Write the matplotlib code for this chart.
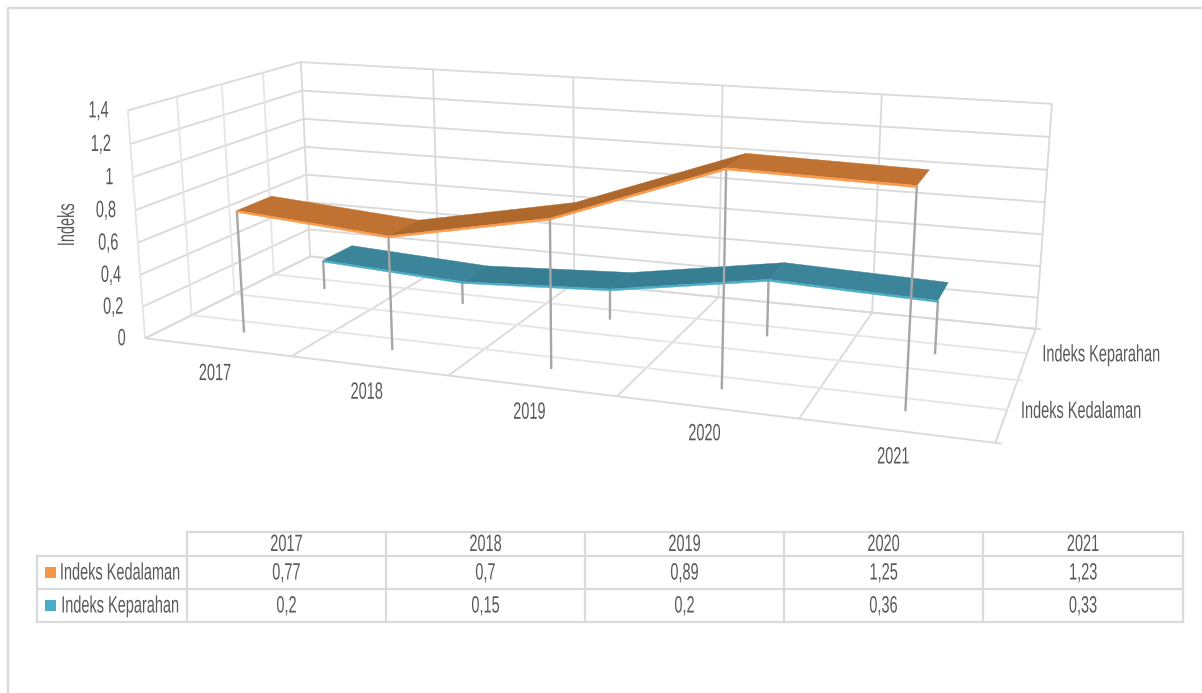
import numpy as np
import matplotlib
matplotlib.use("Agg")
import matplotlib.pyplot as plt
import matplotlib.patheffects as pe
from matplotlib.patches import Polygon, Rectangle
from matplotlib.transforms import Affine2D

# Chart data
years = ["2017", "2018", "2019", "2020", "2021"]
kedalaman = [0.77, 0.70, 0.89, 1.25, 1.23]
keparahan = [0.20, 0.15, 0.20, 0.36, 0.33]
series_names = ["Indeks Kedalaman", "Indeks Keparahan"]
z_ticks = [0, 0.2, 0.4, 0.6, 0.8, 1, 1.2, 1.4]
z_labels = ["0", "0,2", "0,4", "0,6", "0,8", "1", "1,2", "1,4"]
y_title = "Indeks"

W, H = 1202, 693
GRID = "#DADADA"
SOFT = "#E6E6E6"
TEXT = "#595959"
POST = "#A6A6A6"
FAMILY = ["Liberation Sans Narrow", "Liberation Sans", "DejaVu Sans"]
FS = 17
SQUEEZE = 0.615
NAME_HALF = 60  # half the drawn width of a series name, in pixels


class Condensed(pe.AbstractPathEffect):
    """Squeeze glyph outlines along the reading direction, about the anchor."""

    def __init__(self, factor, anchor="center", vertical=False):
        super().__init__()
        self.factor, self.anchor, self.vertical = factor, anchor, vertical

    def draw_path(self, renderer, gc, tpath, affine, rgbFace=None):
        box = tpath.get_extents(affine)
        if self.vertical:
            c = (box.y0 + box.y1) / 2
            squeeze = Affine2D().translate(0, -c).scale(1, self.factor).translate(0, c)
        else:
            c = {"left": box.x0, "center": (box.x0 + box.x1) / 2, "right": box.x1}[self.anchor]
            squeeze = Affine2D().translate(-c, 0).scale(self.factor, 1).translate(c, 0)
        renderer.draw_path(gc, tpath, affine + squeeze, rgbFace)


# Camera of the 3D scene: x spans the 5 categories, y the 2 series (0 = front),
# z the value axis. Fitted to the known box corners and grid crossings.
anchors_3d = np.array([
    (0, 0, 0), (5, 0, 0), (5, 2, 0), (0, 2, 0), (0, 0, 1.4), (0, 2, 1.4), (5, 2, 1.4),
    (1, 0, 0), (2, 0, 0), (3, 0, 0), (4, 0, 0),
    (1, 2, 1.4), (2, 2, 1.4), (3, 2, 1.4), (4, 2, 1.4),
    (3, 2, 0), (4, 2, 0),
    (0, 0.5, 1.4), (0, 1, 1.4), (0, 1.5, 1.4),
    (0, 0.5, 0), (0, 1, 0), (0, 1.5, 0),
    (5, 0.5, 0), (5, 1, 0), (5, 1.5, 0),
], float)
anchors_px = np.array([
    (144, 338), (995, 443), (1036, 328), (310, 257), (128, 109), (300, 62), (1052, 104),
    (292, 356), (449, 376), (618, 397), (797, 420),
    (433, 70), (574, 77), (722, 85), (882, 95),
    (718, 298), (872, 312),
    (177, 97), (222, 84), (263, 73),
    (192, 315), (235, 295), (274, 273),
    (1007, 409), (1019, 380), (1027, 353),
], float)


def fit_camera(pts, px):
    rows, rhs = [], []
    for (X, Y, Z), (u, v) in zip(pts, px):
        rows.append([X, Y, Z, 1, 0, 0, 0, 0, -u * X, -u * Y, -u * Z])
        rhs.append(u)
        rows.append([0, 0, 0, 0, X, Y, Z, 1, -v * X, -v * Y, -v * Z])
        rhs.append(v)
    sol = np.linalg.lstsq(np.array(rows), np.array(rhs), rcond=None)[0]
    return np.append(sol, 1.0).reshape(3, 4)


CAM = fit_camera(anchors_3d, anchors_px)


def project(x, y, z):
    p = CAM @ np.array([x, y, z, 1.0])
    return p[0] / p[2], p[1] / p[2]


fig = plt.figure(figsize=(W / 100, H / 100), dpi=100)
ax = fig.add_axes([0, 0, 1, 1])
ax.set_xlim(0, W)
ax.set_ylim(H, 0)
ax.axis("off")


def line3d(a, b, **kw):
    pa, pb = project(*a), project(*b)
    ax.plot([pa[0], pb[0]], [pa[1], pb[1]], solid_capstyle="butt", **kw)


def label(x, y, s, ha="center", rotation=0):
    t = ax.text(x, y + 1, s, ha=ha, va="center", rotation=rotation, color=TEXT,
                fontsize=FS, family=FAMILY)
    t.set_path_effects([Condensed(SQUEEZE, ha, vertical=rotation == 90)])
    return t


grid_kw = dict(color=GRID, lw=1.35, zorder=1)
soft_kw = dict(color=SOFT, lw=1.35, zorder=1)
n = len(years)
zmax = z_ticks[-1]

# Value gridlines on the left and back walls
for z in z_ticks:
    line3d((0, 0, z), (0, 2, z), **grid_kw)
    line3d((0, 2, z), (n, 2, z), **grid_kw)
# Vertical grid on both walls
for i in range(n + 1):
    line3d((i, 2, 0), (i, 2, zmax), **grid_kw)
for d in (0, 0.5, 1, 1.5):
    line3d((0, d, 0), (0, d, zmax), **soft_kw)
# Floor grid
for i in range(n + 1):
    line3d((i, 0, 0), (i, 2, 0), **grid_kw)
for d, reach, kw in ((0, 0.03, grid_kw), (0.5, 0, soft_kw), (1, 0.03, soft_kw),
                     (1.5, 0, soft_kw), (2, 0.03, grid_kw)):
    line3d((0, d, 0), (n + reach, d, 0), **kw)


def ribbon(values, front, depth, flat, rising, edge, base_z):
    """One series: drop lines, then a shaded band with a bright front lip."""
    xs = [i + 0.5 for i in range(len(values))]
    back = front + depth
    for x, v in zip(xs, values):
        line3d((x, front, 0), (x, front, v), color=POST, lw=1.7, zorder=base_z)
    for i in range(len(values) - 1):
        x0, x1, v0, v1 = xs[i], xs[i + 1], values[i], values[i + 1]
        top = [project(x0, front, v0), project(x1, front, v1),
               project(x1, back, v1), project(x0, back, v0)]
        lip = [project(x0, front, v0), project(x1, front, v1),
               project(x1, front, v1 - 0.012), project(x0, front, v0 - 0.012)]
        shade = rising if v1 > v0 else flat
        ax.add_patch(Polygon(top, closed=True, fc=shade, ec=shade, lw=0.3, zorder=base_z + 1))
        ax.add_patch(Polygon(lip, closed=True, fc=edge, ec=edge, lw=0.3, zorder=base_z + 2))


ribbon(keparahan, 1.3, 0.4, "#3B8499", "#387E93", "#4BACC6", 3)
ribbon(kedalaman, 0.3, 0.4, "#BF7232", "#AE682C", "#FA9A4A", 6)

# Axis labels
for z, s in zip(z_ticks, z_labels):
    px, py = project(0, 0, z)
    label(px - 19, py, s, ha="right")
for i, s in enumerate(years):
    px, py = project(i + 0.5, 0, 0)
    label(px - 2, py + 26, s)
for d, s in zip((0.5, 1.5), series_names):
    px, py = project(n, d, 0)
    label(px + 14 + NAME_HALF, py + 1, s)
label(68, 224, y_title, rotation=90)

# Data table below the plot
col_edges = [187, 386, 585, 784, 983, 1183]
row_edges = [532, 556, 589, 622]
table_kw = dict(color=GRID, lw=1.6, zorder=1, solid_capstyle="projecting")
ax.plot([col_edges[0], col_edges[-1]], [row_edges[0]] * 2, **table_kw)
for yy in row_edges[1:]:
    ax.plot([37, col_edges[-1]], [yy, yy], **table_kw)
for xx in col_edges:
    ax.plot([xx, xx], [row_edges[0], row_edges[-1]], **table_kw)
ax.plot([37, 37], [row_edges[1], row_edges[-1]], **table_kw)

for j, s in enumerate(years):
    label((col_edges[j] + col_edges[j + 1]) / 2, (row_edges[0] + row_edges[1]) / 2, s)

rows = [(series_names[0], kedalaman, "#F79646"), (series_names[1], keparahan, "#4BACC6")]
for r, (name, vals, colour) in enumerate(rows):
    cy = (row_edges[r + 1] + row_edges[r + 2]) / 2
    ax.add_patch(Rectangle((45, cy - 5.5), 11, 11, fc=colour, ec="none", zorder=2))
    label(60 + NAME_HALF, cy, name)
    for j, v in enumerate(vals):
        label((col_edges[j] + col_edges[j + 1]) / 2, cy, f"{v:g}".replace(".", ","))

# Chart area border: only the top and left sides fall inside the frame
ax.plot([8, 8, W], [H, 8, 8], color=GRID, lw=1.7, zorder=1)

fig.savefig("out.png", dpi=100, facecolor="white")
